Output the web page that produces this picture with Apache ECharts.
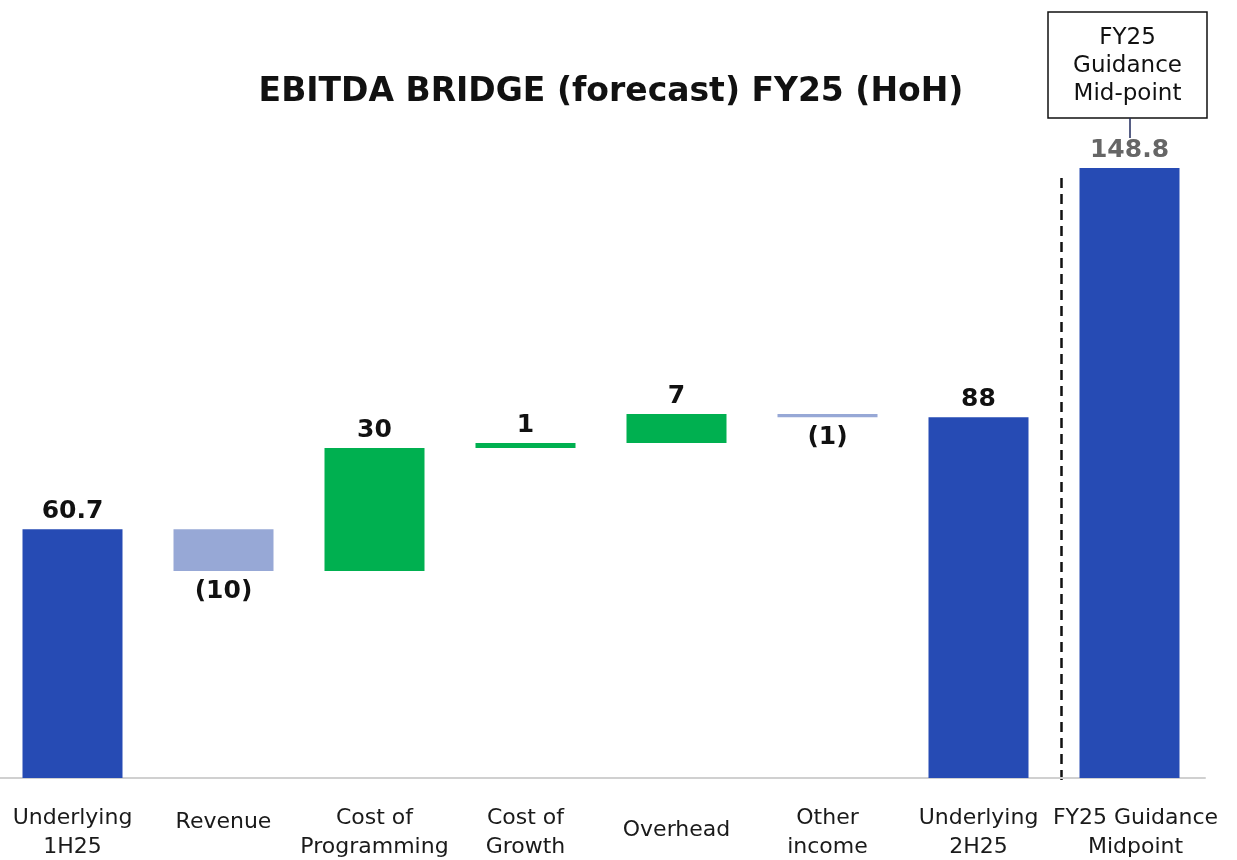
<!DOCTYPE html>
<html>
<head>
<meta charset="UTF-8">
<title>EBITDA Bridge</title>
<style>
  html, body { margin: 0; padding: 0; background: #fff; }
  #chart { width: 1237px; height: 860px; }
</style>
<script src="https://cdn.jsdelivr.net/npm/echarts@6/dist/echarts.min.js"></script>
</head>
<body>
<div id="chart"></div>
<script>
// 数据
const categories = [
  'Underlying\n1H25', 'Revenue', 'Cost of\nProgramming', 'Cost of\nGrowth',
  'Overhead', 'Other\nincome', 'Underlying\n2H25', 'FY25 Guidance\nMidpoint'
]
const openingValue = 60.7
const bridgeChanges = [-10.2, 30.0, 1.2, 7.1, -0.8]
const closingValue = 88
const guidanceValue = 148.8
const valueLabels = ['60.7', '(10)', '30', '1', '7', '(1)', '88', '148.8']

const DARK_BLUE = '#264BB4'
const LIGHT_BLUE = '#97A8D6'
const GREEN = '#00B050'
const FONT = '"DejaVu Sans", sans-serif'

// 瀑布图：透明底座 + 可见柱
const baseData = [0]
const barData = [openingValue]
let running = openingValue
bridgeChanges.forEach(d => {
  const next = running + d
  baseData.push(Math.min(running, next))
  barData.push(Math.abs(d))
  running = next
})
baseData.push(0, 0)
barData.push(closingValue, guidanceValue)

const isTotal = i => i === 0 || i >= categories.length - 2
const barItems = barData.map((v, i) => {
  const neg = !isTotal(i) && bridgeChanges[i - 1] < 0
  return {
    value: v,
    itemStyle: { color: isTotal(i) ? DARK_BLUE : (neg ? LIGHT_BLUE : GREEN) },
    label: {
      position: neg ? 'bottom' : 'top',
      distance: neg ? 8 : 5,
      color: i === categories.length - 1 ? '#666666' : '#111111'
    }
  }
})

// 单行标签的垂直偏移
const axisData = categories.map(c => {
  if (c === 'Revenue') return { value: c, textStyle: { padding: [4, 0, 0, 0] } }
  if (c === 'Overhead') return { value: c, textStyle: { padding: [12, 0, 0, 0] } }
  if (c.startsWith('FY25')) return { value: c, textStyle: { padding: [0, 0, 0, 12] } }
  return c
})

const chart = echarts.init(document.getElementById('chart'))
chart.setOption({
  animation: false,
  title: {
    text: 'EBITDA BRIDGE (forecast) FY25 (HoH)',
    left: 606,
    top: 71,
    textAlign: 'center',
    textStyle: { fontFamily: FONT, fontWeight: 'bold', fontSize: 33, color: '#111' }
  },
  grid: { left: -3, right: 32, top: 163, bottom: 82, outerBoundsMode: 'none', containLabel: false },
  xAxis: {
    type: 'category',
    data: axisData,
    axisTick: { show: false },
    axisLine: { lineStyle: { color: '#D0D0D0', width: 2 } },
    axisLabel: {
      interval: 0,
      margin: 26,
      fontFamily: FONT,
      fontSize: 22,
      lineHeight: 29,
      color: '#1a1a1a'
    }
  },
  yAxis: {
    type: 'value',
    min: 0,
    max: 150,
    show: false,
    splitLine: { show: false }
  },
  series: [
    {
      type: 'bar',
      stack: 'bridge',
      data: baseData,
      itemStyle: { color: 'transparent' },
      silent: true,
      barWidth: 100
    },
    {
      type: 'bar',
      stack: 'bridge',
      data: barItems,
      barWidth: 100,
      label: {
        show: true,
        fontFamily: FONT,
        fontWeight: 'bold',
        fontSize: 25,
        formatter: p => valueLabels[p.dataIndex]
      }
    }
  ],
  graphic: [
    {
      type: 'line',
      shape: { x1: 1061.5, y1: 178, x2: 1061.5, y2: 785 },
      style: { stroke: '#111', lineWidth: 2.5, lineDash: [10, 6] }
    },
    {
      type: 'rect',
      shape: { x: 1048, y: 12, width: 159, height: 106 },
      style: { fill: '#fff', stroke: '#111', lineWidth: 1.5 }
    },
    {
      type: 'text',
      x: 1127.5,
      y: 66,
      style: {
        text: 'FY25\nGuidance\nMid-point',
        align: 'center',
        verticalAlign: 'middle',
        fontFamily: FONT,
        fontSize: 23,
        lineHeight: 28,
        fill: '#111'
      }
    },
    {
      type: 'line',
      shape: { x1: 1130, y1: 118, x2: 1130, y2: 138 },
      style: { stroke: '#1F2A5C', lineWidth: 1.5 }
    }
  ]
})
</script>
</body>
</html>
